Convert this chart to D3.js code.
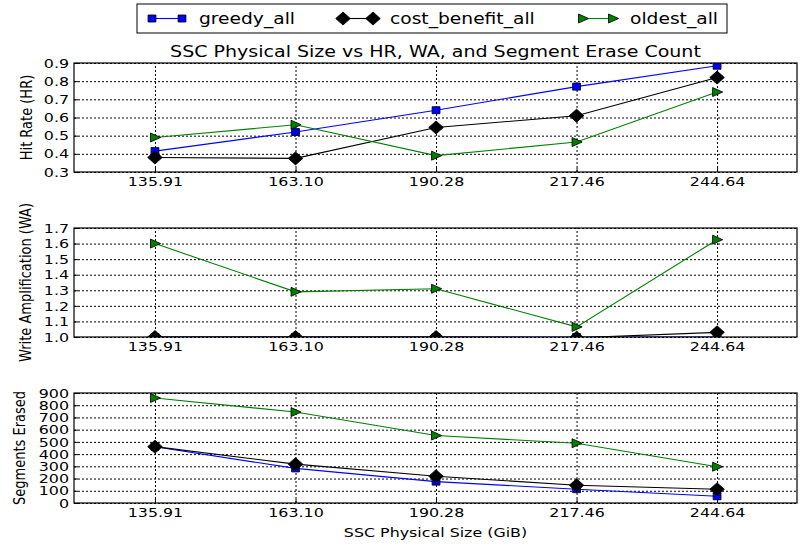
<!DOCTYPE html>
<html><head><meta charset="utf-8">
<script src="https://cdn.jsdelivr.net/npm/d3@7/dist/d3.min.js"></script>
<style>body{margin:0;background:#fff}svg{display:block}text{font-family:"DejaVu Sans",sans-serif;fill:#000}</style>
</head><body>
<script>
// ---- data ----
const categories = [135.91, 163.10, 190.28, 217.46, 244.64];
const tickLabels = ["135.91", "163.10", "190.28", "217.46", "244.64"];
const seriesNames = ["greedy_all", "cost_benefit_all", "oldest_all"];
const hrGreedy = [0.415, 0.52, 0.64, 0.77, 0.885];
const hrCost = [0.38, 0.375, 0.545, 0.61, 0.82];
const hrOldest = [0.49, 0.56, 0.39, 0.465, 0.74];
const waGreedy = [1.0, 1.0, 1.0, 1.0, 1.0];
const waCost = [1.0, 1.0, 1.0, 0.995, 1.03];
const waOldest = [1.6, 1.29, 1.31, 1.065, 1.625];
const segGreedy = [460, 283, 175, 113, 55];
const segCost = [461, 318, 219, 145, 112];
const segOldest = [859, 744, 552, 489, 297];
const hrTicks = [0.3, 0.4, 0.5, 0.6, 0.7, 0.8, 0.9];
const waTicks = [1.0, 1.1, 1.2, 1.3, 1.4, 1.5, 1.6, 1.7];
const segTicks = [0, 100, 200, 300, 400, 500, 600, 700, 800, 900];
const titleText = "SSC Physical Size vs HR, WA, and Segment Erase Count";
const xLabel = "SSC Physical Size (GiB)";

// ---- layout ----
const W = 808, H = 547;
const SX = 1.22;   // horizontal text stretch
const MX = 1.12;   // marker stretch
const left = 74, right = 797;
const colors = ["#0000ff", "#000000", "#008000"];
const svg = d3.select("body").append("svg").attr("width", W).attr("height", H);

const x = d3.scaleLinear().domain([120.25, 260.1]).range([left, right]);

const markerPath = [
  "M-3.5,-3.5L3.5,-3.5L3.5,3.5L-3.5,3.5Z",
  "M0,-6.5L6.5,0L0,6.5L-6.5,0Z",
  "M-4,-4.5L5,0L-4,4.5Z"
];
function drawMarker(g, i, cx, cy) {
  g.append("path").attr("d", markerPath[i])
    .attr("transform", `translate(${cx},${cy}) scale(${MX},1)`)
    .attr("fill", colors[i]).attr("stroke", "#000").attr("stroke-width", 0.8);
}
function stretchText(g, str, tx, ty, size, anchor, rot) {
  const t = g.append("text").text(str).attr("font-size", size)
    .attr("text-anchor", anchor || "middle")
    .attr("transform", rot ? `translate(${tx},${ty}) rotate(-90) scale(1,${SX})` : `translate(${tx},${ty}) scale(${SX},1)`);
  return t;
}

const panels = [
  {top: 63, bottom: 172, domain: [0.3, 0.9], ticks: hrTicks, fmt: d3.format(".1f"), data: [hrGreedy, hrCost, hrOldest], label: "Hit Rate (HR)", lx: 28},
  {top: 228, bottom: 337, domain: [1.0, 1.7], ticks: waTicks, fmt: d3.format(".1f"), data: [waGreedy, waCost, waOldest], label: "Write Amplification (WA)", lx: 27},
  {top: 393, bottom: 503, domain: [0, 900], ticks: segTicks, fmt: d3.format("d"), data: [segGreedy, segCost, segOldest], label: "Segments Erased", lx: 21}
];

panels.forEach((p, pi) => {
  const y = d3.scaleLinear().domain(p.domain).range([p.bottom, p.top]);
  const g = svg.append("g");
  const h = p.bottom - p.top;
  // grid
  g.append("g").attr("transform", `translate(0,${p.bottom})`)
    .call(d3.axisBottom(x).tickValues(categories).tickSize(-h).tickFormat(""))
    .call(s => { s.select(".domain").remove(); s.selectAll("line").attr("stroke", "#000").attr("stroke-dasharray", "2,2").attr("stroke-width", 1); });
  g.append("g").attr("transform", `translate(${left},0)`)
    .call(d3.axisLeft(y).tickValues(p.ticks).tickSize(-(right - left)).tickFormat(""))
    .call(s => { s.select(".domain").remove(); s.selectAll("line").attr("stroke", "#000").attr("stroke-dasharray", "2,2").attr("stroke-width", 1); });

  // series
  const clipId = "clip" + pi;
  svg.append("clipPath").attr("id", clipId).append("rect")
    .attr("x", left).attr("y", p.top).attr("width", right - left).attr("height", h);
  const sg = g.append("g").attr("clip-path", `url(#${clipId})`);
  p.data.forEach((vals, si) => {
    const line = d3.line().x((d, i) => x(categories[i])).y(d => y(d));
    sg.append("path").datum(vals).attr("d", line).attr("fill", "none")
      .attr("stroke", colors[si]).attr("stroke-width", 1.1);
    vals.forEach((v, i) => drawMarker(sg, si, x(categories[i]), y(v)));
  });

  // axes with labels
  const ax = g.append("g").attr("transform", `translate(0,${p.bottom})`)
    .call(d3.axisBottom(x).tickValues(categories).tickSize(-4).tickPadding(5).tickFormat((d, i) => tickLabels[i]));
  ax.select(".domain").remove();
  ax.selectAll("line").attr("stroke", "#000");
  ax.selectAll("text").attr("font-size", 13).attr("font-family", "DejaVu Sans").attr("fill", "#000")
    .attr("transform", `scale(${SX},1)`);
  const ay = g.append("g").attr("transform", `translate(${left},0)`)
    .call(d3.axisLeft(y).tickValues(p.ticks).tickSize(-4).tickPadding(0).tickFormat(p.fmt));
  ay.select(".domain").remove();
  ay.selectAll("line").attr("stroke", "#000");
  ay.selectAll("text").attr("font-size", 13).attr("font-family", "DejaVu Sans").attr("fill", "#000")
    .attr("x", -5 / SX).attr("transform", `scale(${SX},1)`);
  // frame
  g.append("rect").attr("x", left).attr("y", p.top).attr("width", right - left).attr("height", h)
    .attr("fill", "none").attr("stroke", "#000").attr("stroke-width", 1.2);
  // y label
  stretchText(g, p.label, p.lx + 4, (p.top + p.bottom) / 2, 13, "middle", true);
});

// title
stretchText(svg, titleText, (left + right) / 2, 57, 15.6, "middle");
// x label
stretchText(svg, xLabel, (left + right) / 2, 537, 13, "middle");

// legend
const lg = svg.append("g");
lg.append("rect").attr("x", 137).attr("y", 4).attr("width", 590).attr("height", 29)
  .attr("fill", "#fff").attr("stroke", "#000").attr("stroke-width", 1);
const legX = [152, 343, 583];
seriesNames.forEach((n, i) => {
  const x0 = legX[i], x1 = x0 + 30, yy = 18.5;
  lg.append("line").attr("x1", x0).attr("x2", x1).attr("y1", yy).attr("y2", yy)
    .attr("stroke", colors[i]).attr("stroke-width", 1.1);
  drawMarker(lg, i, x0, yy);
  drawMarker(lg, i, x1, yy);
  stretchText(lg, n, x1 + 17, yy + 5.5, 15.3, "start");
});
</script>
</body></html>
